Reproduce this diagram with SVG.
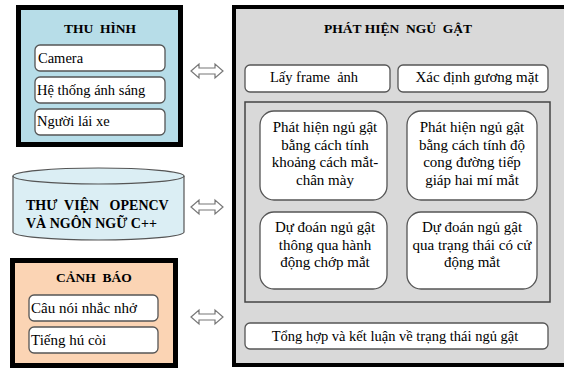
<svg xmlns="http://www.w3.org/2000/svg" width="564" height="369" viewBox="0 0 564 369">
<defs>
<style>
text{white-space:pre}
.t{font-family:"Liberation Serif","Times New Roman",serif;font-size:14.5px;fill:#000}
.s{font-size:15px}
.h{font-family:"Liberation Serif","Times New Roman",serif;font-size:13.5px;font-weight:bold;fill:#000}
.c{font-size:14px}
.m{text-anchor:middle}
.box{fill:#fff;stroke:#555;stroke-width:1.3}
.arr{fill:#fff;stroke:#777;stroke-width:1.2}
</style>
<path id="dbl" d="M0,0 l8,-7 v4 h16 v-4 l8,7 l-8,7 v-4 h-16 v4 z"/>
</defs>
<rect width="564" height="369" fill="#fff"/>

<g id="thu-hinh">
<rect x="18.5" y="7.5" width="162" height="137" fill="#b7dde8" stroke="#000" stroke-width="5"/>
<text class="h m" x="100" y="33">THU  HÌNH</text>
<rect class="box" x="35" y="45" width="130" height="26" rx="5"/>
<text class="t" x="38" y="63">Camera</text>
<rect class="box" x="35" y="77" width="130" height="26" rx="5"/>
<text class="t" x="37" y="95">Hệ thống ánh sáng</text>
<rect class="box" x="35" y="109" width="130" height="26" rx="5"/>
<text class="t" x="37" y="126">Người lái xe</text>
</g>

<g id="thu-vien">
<path d="M13,176 A85.5,8 0 0 1 184,176 V232 A85.5,8 0 0 1 13,232 Z" fill="#dbeef4" stroke="#555" stroke-width="1.2"/>
<path d="M13,176 A85.5,8 0 0 0 184,176" fill="none" stroke="#555" stroke-width="1.2"/>
<text class="h c" x="26" y="210">THƯ  VIỆN   OPENCV</text>
<text class="h c" x="26" y="228">VÀ NGÔN NGỮ C++</text>
</g>

<g id="canh-bao">
<rect x="12.5" y="260.5" width="163" height="105" fill="#fbd4b4" stroke="#000" stroke-width="5"/>
<text class="h m" x="94" y="282">CẢNH  BÁO</text>
<rect class="box" x="29" y="295" width="129" height="26" rx="5"/>
<text class="t s" x="31" y="313">Câu nói nhắc nhở</text>
<rect class="box" x="29" y="327" width="129" height="26" rx="5"/>
<text class="t s" x="31" y="345">Tiếng hú còi</text>
</g>

<g id="phat-hien">
<rect x="234" y="7" width="334" height="358" fill="#d9d9d9" stroke="#000" stroke-width="4"/>
<text class="h m" x="398" y="33">PHÁT HIỆN  NGỦ  GẬT</text>
<rect class="box" x="245" y="65" width="145" height="27" rx="5"/>
<text class="t m" x="314" y="82">Lấy frame  ảnh</text>
<rect class="box" x="398" y="65" width="150" height="27" rx="5"/>
<text class="t s m" x="477" y="82">Xác định gương mặt</text>
<rect x="245" y="102" width="305" height="200" fill="none" stroke="#444" stroke-width="1.5"/>
<g id="tl">
<rect class="box" x="260" y="111" width="127" height="89" rx="14"/>
<text class="t s m" x="325" y="132">Phát hiện ngủ gật</text>
<text class="t s m" x="325" y="149.5">bằng cách tính</text>
<text class="t s m" x="325" y="167">khoảng cách mắt-</text>
<text class="t s m" x="325" y="184.5">chân mày</text>
</g>
<g id="tr">
<rect class="box" x="407" y="111" width="130" height="89" rx="14"/>
<text class="t s m" x="472" y="132">Phát hiện ngủ gật</text>
<text class="t s m" x="472" y="149.5">bằng cách tính độ</text>
<text class="t s m" x="472" y="167">cong đường tiếp</text>
<text class="t s m" x="472" y="184.5">giáp hai mí mắt</text>
</g>
<g id="bl">
<rect class="box" x="260" y="212" width="127" height="77" rx="14"/>
<text class="t s m" x="325" y="232">Dự đoán ngủ gật</text>
<text class="t s m" x="325" y="249.5">thông qua hành</text>
<text class="t s m" x="325" y="267">động chớp mắt</text>
</g>
<g id="br">
<rect class="box" x="407" y="212" width="130" height="77" rx="14"/>
<text class="t s m" x="472" y="232">Dự đoán ngủ gật</text>
<text class="t s m" x="472" y="249.5">qua trạng thái có cử</text>
<text class="t s m" x="472" y="267">động mắt</text>
</g>
<rect class="box" x="245" y="323" width="303" height="26" rx="5"/>
<text class="t m" x="395" y="341">Tổng hợp và kết luận về trạng thái ngủ gật</text>
</g>

<g id="connectors">
<use href="#dbl" class="arr" x="191" y="71"/>
<use href="#dbl" class="arr" x="191" y="207"/>
<use href="#dbl" class="arr" x="191" y="317"/>
</g>
</svg>
